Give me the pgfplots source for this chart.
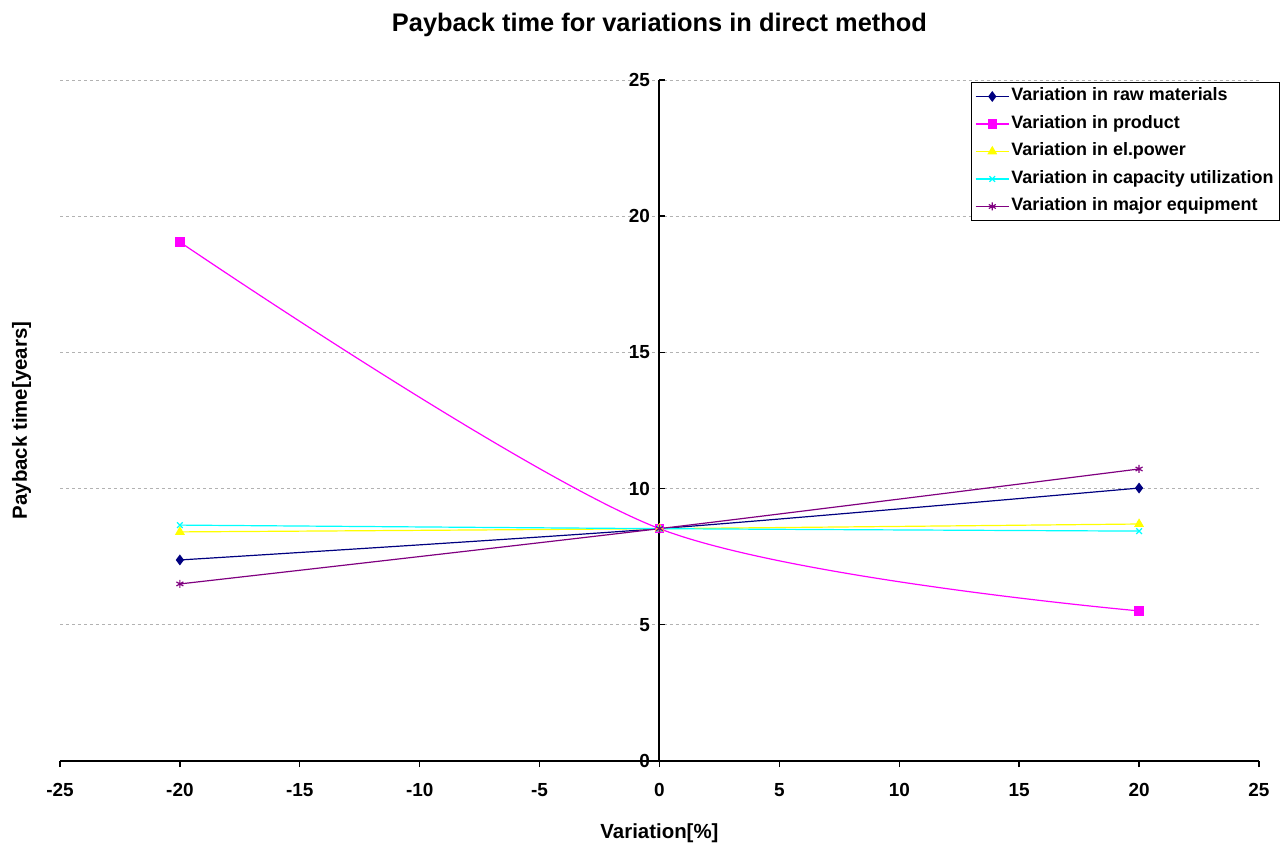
\documentclass[border=0pt]{standalone}
\usepackage{fontspec}
\setmainfont{Liberation Sans}
\usepackage{pgfplots}
\pgfplotsset{compat=1.18}
\definecolor{cnavy}{RGB}{0,0,128}
\definecolor{cmag}{RGB}{255,0,255}
\definecolor{cyel}{RGB}{255,255,0}
\definecolor{ccyan}{RGB}{0,255,255}
\definecolor{cpurp}{RGB}{128,0,128}
\begin{document}
\begin{tikzpicture}[x=1bp,y=1bp]
\path[use as bounding box] (-60bp,-83bp) rectangle (1228bp,761bp);
\begin{axis}[
  at={(0bp,0bp)}, anchor=south west,
  width=1199bp, height=681bp, scale only axis,
  xmin=-25, xmax=25, ymin=0, ymax=25,
  axis y line=middle, axis x line=bottom,
  axis line style={black, line width=1.6bp, -},
  every inner y axis line/.append style={black, line width=1.8bp, -},
  every outer x axis line/.append style={black, line width=1.6bp, -},
  hide obscured x ticks=false, hide obscured y ticks=false,
  xtick={-25,-20,...,25}, ytick={0,5,...,25},
  every tick/.style={black, line width=1.4bp},
  every y tick/.style={black, line width=1.4bp},
  major tick length=6bp,
  xtick align=outside, ytick align=inside,
  /pgf/number format/assume math mode=true,
  tick label style={font=\fontsize{19}{22}\selectfont\bfseries},
  xticklabel style={yshift=-13bp},
  yticklabel style={xshift=-6bp},
  ymajorgrids, grid style={gray!60, dashed, line width=0.8bp},
  clip=false,
  title={Payback time for variations in direct method},
  title style={font=\fontsize{25.5}{30}\selectfont\bfseries, at={([yshift=43bp]axis description cs:0.5,1)}, anchor=base},
  xlabel={Variation[\%]},
  xlabel style={font=\fontsize{20.5}{24}\selectfont\bfseries, at={([yshift=-77bp]axis description cs:0.5,0)}, anchor=base},
  ylabel={Payback time[years]},
  ylabel style={font=\fontsize{20.5}{24}\selectfont\bfseries, at={([xshift=-33bp]axis description cs:0,0.5)}, rotate=90, anchor=base},
  legend style={at={([xshift=21bp,yshift=-2bp]axis description cs:1,1)}, anchor=north east,
    draw=black, line width=1bp, font=\fontsize{18}{21}\selectfont\bfseries,
    row sep=6.5bp, inner xsep=4bp, inner ysep=3.5bp, cells={anchor=west},
    nodes={inner sep=2bp, text height=13bp, text depth=4bp}},
  legend image code/.code={\draw[#1, line width=1.2bp] (0bp,0bp) -- (33bp,0bp); \draw[#1, mark repeat=2, mark phase=2] plot coordinates {(0bp,0bp) (16.5bp,0bp) (33bp,0bp)};},
  every axis plot/.append style={line width=1.2bp, smooth},
]
\draw[black, line width=2bp] (axis cs:0,0) -- (axis cs:0,25);
\addplot[cnavy, mark=diamond*, mark size=4.5bp, mark options={solid, fill=cnavy}] coordinates {(-20,7.38) (0,8.53) (20,10.02)};
\addlegendentry{Variation in raw materials}
\addplot[cmag, mark=square*, mark size=4.2bp, mark options={fill=cmag}] coordinates {(-20,19.05) (0,8.53) (20,5.51)};
\addlegendentry{Variation in product}
\addplot[cyel, mark=triangle*, mark size=4.5bp, mark options={fill=cyel}] coordinates {(-20,8.41) (0,8.53) (20,8.70)};
\addlegendentry{Variation in el.power}
\addplot[ccyan, mark=x, mark size=4bp] coordinates {(-20,8.66) (0,8.53) (20,8.44)};
\addlegendentry{Variation in capacity utilization}
\addplot[cpurp, mark=asterisk, mark size=4bp] coordinates {(-20,6.50) (0,8.53) (20,10.72)};
\addlegendentry{Variation in major equipment}
\end{axis}
\end{tikzpicture}
\end{document}
